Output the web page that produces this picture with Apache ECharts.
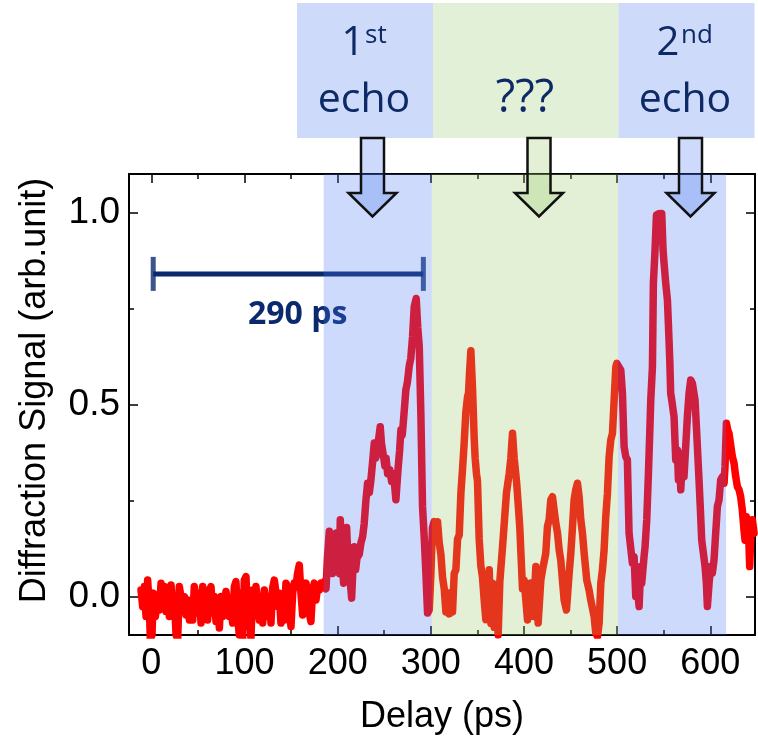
<!DOCTYPE html>
<html>
<head>
<meta charset="utf-8">
<script src="https://cdn.jsdelivr.net/npm/echarts@6/dist/echarts.min.js"></script>
<style>
  html, body { margin: 0; padding: 0; background: #ffffff; }
  #chart { width: 758px; height: 744px; }
</style>
</head>
<body>
<div id="chart"></div>
<script>
// Diffraction signal vs. pump-probe delay, [delay (ps), signal (arb. unit)]
const preEcho = [
  [-11.1, 0.017], [-9.3, -0.026], [-7.5, 0.026], [-5.7, -0.052], [-4.0, 0.043], [-2.2, -0.026],
  [-1.1, -0.11], [0.7, -0.10], [2.1, 0.009], [4.3, -0.052], [6.4, -0.009], [8.6, -0.035],
  [10.4, 0.035], [12.2, -0.026], [13.9, 0.026], [15.7, -0.039], [17.5, 0.009], [19.3, -0.052],
  [21.1, 0.030], [22.9, -0.026], [24.7, 0.0], [26.5, -0.10], [28.3, -0.11], [30.0, 0.026],
  [31.8, 0.030], [33.6, -0.026], [35.4, 0.0], [37.2, -0.048], [39.0, -0.009], [40.8, -0.061],
  [42.6, -0.017], [44.4, -0.061], [46.1, 0.026], [47.9, 0.026], [49.7, -0.043], [51.5, 0.009],
  [53.3, -0.069], [55.1, 0.026], [56.9, -0.026], [58.7, 0.0], [60.4, -0.061], [62.2, 0.017],
  [64.0, 0.026], [65.8, -0.043], [67.6, 0.0], [69.4, -0.065], [71.2, -0.009], [73.0, -0.082],
  [74.8, 0.0], [76.5, -0.052], [78.3, -0.026], [80.1, 0.013], [81.9, 0.017], [83.7, -0.052],
  [85.5, -0.017], [87.3, -0.069], [89.1, 0.026], [90.8, 0.039], [92.6, -0.052], [94.4, -0.10],
  [96.2, 0.009], [98.0, -0.11], [99.8, 0.043], [101.6, 0.052], [103.4, -0.078], [105.2, -0.009],
  [106.9, -0.11], [108.7, 0.017], [110.5, -0.026], [112.3, 0.026], [114.1, 0.030], [115.9, -0.061],
  [117.7, -0.009], [119.5, -0.069], [121.3, 0.017], [123.0, 0.022], [124.8, -0.052], [126.6, 0.0],
  [128.4, -0.069], [130.2, 0.022], [132.0, 0.043], [133.8, 0.039], [135.6, -0.026], [137.3, 0.009],
  [139.1, -0.069], [140.9, -0.017], [142.7, -0.061], [144.5, 0.035], [146.3, 0.026], [148.1, -0.043],
  [149.9, -0.078], [151.7, 0.009], [153.4, 0.035], [155.2, 0.026], [157.0, 0.061], [158.8, 0.082],
  [160.6, 0.009], [162.4, -0.048], [164.2, -0.009], [166.0, 0.035], [167.7, 0.009], [169.5, -0.043],
  [171.3, -0.065], [173.1, 0.017], [174.9, 0.035], [176.7, -0.009], [178.5, 0.026], [180.3, 0.017],
  [182.1, 0.035], [183.8, 0.026], [185.6, 0.039]
];
const firstEcho = [
  [187.5, 0.02], [189, 0.10], [191, 0.17], [193, 0.08], [194.5, 0.06], [196.5, 0.15], [198.2, 0.165],
  [200, 0.07], [201.7, 0.06], [202.8, 0.20], [204.5, 0.10], [206.4, 0.035], [208, 0.12], [209.6, 0.18],
  [211, 0.10], [212.4, 0.07], [215, -0.004], [216.5, 0.08], [217.8, 0.13], [219.3, 0.07], [220.7, 0.10],
  [223.2, 0.11], [225, 0.14], [226.8, 0.156], [228.5, 0.19], [230.3, 0.25], [232.1, 0.295], [234, 0.27],
  [235.7, 0.304], [237.5, 0.35], [239.3, 0.40], [240.7, 0.36], [242.1, 0.373], [244, 0.41], [245.7, 0.442],
  [247, 0.40], [248.2, 0.38], [249.5, 0.36], [250.7, 0.34], [252, 0.36], [253.6, 0.32], [256, 0.33],
  [257.9, 0.30], [260, 0.32], [262.5, 0.252], [265, 0.338], [266.5, 0.38], [267.9, 0.434], [269.3, 0.42],
  [270.7, 0.46], [272, 0.50], [273.2, 0.538], [275, 0.56], [276.8, 0.60], [278.5, 0.62], [280.4, 0.677],
  [282.2, 0.755], [284.3, 0.776], [286, 0.70], [287.6, 0.65], [289.3, 0.477], [291.1, 0.234], [293, 0.15],
  [294.7, 0.061], [296.5, -0.043], [298.3, -0.035], [300.1, 0.061]
];
const between = [
  [301.8, 0.18], [303.5, 0.195], [305.4, 0.17], [307.2, 0.195], [309, 0.14], [310.8, 0.11], [312.6, 0.05],
  [314.4, 0.02], [316.2, -0.04], [318, 0.01], [319.7, -0.045], [321.5, 0.0], [323.3, -0.04], [325.1, 0.06],
  [326.9, 0.07], [328.7, 0.15], [330.5, 0.16], [332.3, 0.27], [334, 0.33], [335.8, 0.40], [337.6, 0.48],
  [339.4, 0.52], [340.5, 0.53], [341.5, 0.58], [343, 0.64], [344.8, 0.54], [346.6, 0.41], [347.6, 0.36],
  [349, 0.32], [350.1, 0.30], [351.9, 0.15], [353.7, 0.08], [355.5, 0.05], [357.3, -0.01], [359.1, -0.06],
  [360.9, -0.03], [362.7, 0.07], [364.5, -0.07], [366.2, 0.035], [368, -0.08], [369.8, 0.03], [372.3, -0.10],
  [374.1, 0.04], [377, 0.13], [378.8, 0.13], [381.2, 0.27], [384.1, 0.32], [385.9, 0.36], [387.7, 0.425],
  [389.5, 0.36], [392, 0.30], [394.1, 0.23], [395.5, 0.18], [398.4, 0.02],
  [400.2, 0.043], [403.8, -0.061], [405.6, -0.009], [407.4, 0.035], [410.2, -0.052], [412.7, 0.078],
  [415.2, -0.069], [418.1, 0.043], [419.9, 0.069], [423.4, 0.113], [425.2, 0.182], [427.0, 0.2],
  [428.8, 0.252], [430.6, 0.26], [432.4, 0.225], [434.2, 0.191], [436.0, 0.165], [437.8, 0.121],
  [439.5, 0.095], [441.3, 0.043], [443.1, -0.009], [445.6, -0.035], [448.5, 0.061], [450.3, 0.113],
  [452.1, 0.182], [453.8, 0.252], [455.6, 0.278], [457.4, 0.295], [459.2, 0.26], [461.0, 0.2],
  [462.8, 0.165], [464.6, 0.113], [467.4, 0.043], [469.9, 0.017], [471.7, -0.009], [475.3, -0.052],
  [477.1, -0.095], [478.9, -0.104], [480.7, -0.069], [482.5, 0.035], [484.2, 0.069], [486.0, 0.121],
  [487.8, 0.208], [489.6, 0.269], [491.4, 0.364], [493.2, 0.408], [495.0, 0.425], [496.8, 0.512],
  [498.6, 0.598], [499.6, 0.607]
];
const secondEcho = [
  [503.9, 0.59], [505.7, 0.529], [507.5, 0.39], [509.3, 0.364], [511.0, 0.356], [512.8, 0.165],
  [516.4, 0.087], [518.2, 0.104], [520.0, 0.0], [521.8, 0.017], [523.6, -0.026], [525.3, 0.078],
  [526.4, 0.035], [528.9, 0.104], [530.0, 0.13], [531.8, 0.2], [533.6, 0.321], [535.0, 0.425],
  [536.1, 0.512], [537.9, 0.598], [538.9, 0.815], [540.7, 0.902], [542.2, 0.993], [543.9, 0.989],
  [545.0, 0.997], [546.8, 0.98], [547.9, 0.997], [549.3, 0.902], [550.4, 0.867], [552.2, 0.815],
  [554.0, 0.772], [555.7, 0.668], [556.5, 0.616], [557.5, 0.529], [558.6, 0.512], [561.1, 0.468],
  [562.9, 0.356], [564.7, 0.382], [565.8, 0.304], [567.2, 0.373], [568.3, 0.278], [570.1, 0.356],
  [571.8, 0.312], [573.6, 0.39], [575.4, 0.468], [577.2, 0.529], [579.0, 0.564], [580.8, 0.555],
  [582.6, 0.559], [583.6, 0.512], [585.1, 0.442], [586.5, 0.373], [587.9, 0.304], [589.4, 0.225],
  [590.8, 0.147], [592.6, 0.113], [594.4, 0.078], [595.8, 0.035], [596.9, -0.026], [598.7, 0.035],
  [600.5, 0.078], [602.2, 0.061], [604.0, 0.095], [605.8, 0.165], [607.6, 0.234], [609.4, 0.252],
  [611.2, 0.304], [613.0, 0.312], [614.8, 0.295], [615.8, 0.338], [617.3, 0.451]
];
const tail = [
  [618.7, 0.434], [620.1, 0.425], [621.9, 0.425], [623.7, 0.364], [625.5, 0.347], [627.3, 0.312],
  [629.1, 0.286], [630.9, 0.278], [632.6, 0.26], [634.4, 0.225], [636.2, 0.173], [637.3, 0.147],
  [638.7, 0.208], [640.9, 0.182], [642.3, 0.078], [643.7, 0.173], [645.2, 0.2], [647.0, 0.165]
];

// Shaded delay windows [from, to]
const echoWindows = [[185, 301], [501, 617]];
const unknownWindow = [301, 501];

// Scale bar showing the echo spacing
const scaleBarDelay = [2, 292];
const scaleBarLevel = 0.84;
const scaleBarLabel = '290 ps';
const scaleBarLabelAt = [157, 0.733];

const xRange = [-24, 648];
const yRange = [-0.1, 1.1];

const BLUE_VEIL = 'rgba(70,120,240,0.27)';
const GREEN_VEIL = 'rgba(150,198,104,0.27)';
const NAVY = '#0b2a6e';
const TICK_FONT = "'Liberation Sans Narrow', 'Liberation Sans', Arial, sans-serif";
const TITLE_FONT = "'Liberation Sans', Arial, sans-serif";
const BOX_FONT = "'Open Sans', 'Noto Sans', sans-serif";

const signal = preEcho.concat(firstEcho, between, secondEcho, tail);

const chart = echarts.init(document.getElementById('chart'), null, { renderer: 'canvas' });

function frameAxis(extra) {
  return Object.assign({
    type: 'value',
    axisLine: { show: true, onZero: false, lineStyle: { color: '#000', width: 2 } },
    axisTick: { show: true, inside: true, length: 9, lineStyle: { color: '#000', width: 1.5 } },
    minorTick: { show: true, splitNumber: 2, length: 5, lineStyle: { color: '#000', width: 1.5 } },
    splitLine: { show: false },
    minorSplitLine: { show: false }
  }, extra);
}

const markAreaData = echoWindows.map(w => [{ xAxis: w[0], itemStyle: { color: BLUE_VEIL } }, { xAxis: w[1] }])
  .concat([[{ xAxis: unknownWindow[0], itemStyle: { color: GREEN_VEIL } }, { xAxis: unknownWindow[1] }]]);

function arrow(cx, fill) {
  return {
    type: 'polygon', z: 100, silent: true,
    shape: { points: [[cx - 11.5, 138], [cx + 11.5, 138], [cx + 11.5, 193], [cx + 24, 193], [cx, 216.5], [cx - 24, 193], [cx - 11.5, 193]] },
    style: { fill: fill, stroke: '#111', lineWidth: 2.5, lineJoin: 'miter' }
  };
}
function boxText(text, x, y, size, align) {
  return {
    type: 'text', z: 101, silent: true,
    style: { text: text, x: x, y: y, fill: '#0e2a66', font: size + 'px ' + BOX_FONT, textAlign: align || 'center', textVerticalAlign: 'middle' }
  };
}

const option = {
  animation: false,
  backgroundColor: '#ffffff',
  grid: { left: 129, top: 174, width: 626, height: 461, containLabel: false },
  xAxis: [
    frameAxis({
      position: 'bottom', min: xRange[0], max: xRange[1], splitNumber: 7,
      name: 'Delay (ps)', nameLocation: 'middle', nameGap: 64,
      nameTextStyle: { fontFamily: TITLE_FONT, fontSize: 36, color: '#000' },
      axisLabel: { show: true, margin: 11, fontFamily: TICK_FONT, fontSize: 36, color: '#000', showMinLabel: false, showMaxLabel: false }
    }),
    frameAxis({ position: 'top', min: xRange[0], max: xRange[1], splitNumber: 7, axisLabel: { show: false } })
  ],
  yAxis: [
    frameAxis({
      position: 'left', min: yRange[0], max: yRange[1], splitNumber: 3,
      name: 'Diffraction Signal (arb.unit)', nameLocation: 'middle', nameGap: 76, nameRotate: 90,
      nameTextStyle: { fontFamily: TITLE_FONT, fontSize: 36, color: '#000', padding: [0, 0, 0, 28] },
      axisLabel: { show: true, margin: 9, fontFamily: TICK_FONT, fontSize: 37, color: '#000', showMinLabel: false, showMaxLabel: false,
        formatter: v => v.toFixed(1) }
    }),
    frameAxis({ position: 'right', min: yRange[0], max: yRange[1], splitNumber: 3, axisLabel: { show: false } })
  ],
  series: [
    {
      name: 'Diffraction signal', type: 'line', data: signal, z: 2,
      showSymbol: false, symbol: 'none', sampling: 'none', clip: true,
      lineStyle: { color: '#ff0000', width: 7.5, join: 'round', cap: 'round' },
      markArea: { silent: true, z: 10, data: markAreaData, label: { show: false } }
    },
    {
      name: 'Scale bar', type: 'line', z: 2, symbol: 'none', silent: true,
      data: scaleBarDelay.map(d => [d, scaleBarLevel]),
      lineStyle: { color: NAVY, width: 5 }
    },
    {
      name: 'Scale bar ends', type: 'scatter', z: 2, silent: true, symbol: 'rect', symbolSize: [5, 34],
      data: scaleBarDelay.map(d => [d, scaleBarLevel]),
      itemStyle: { color: NAVY }
    },
    {
      name: 'Scale bar label', type: 'scatter', z: 2, silent: true, symbolSize: 0,
      data: [scaleBarLabelAt],
      label: { show: true, position: 'inside', formatter: scaleBarLabel, fontFamily: BOX_FONT, fontWeight: 'bold', fontSize: 32,
        color: NAVY, textBorderWidth: 0, opacity: 1 }
    }
  ],
  graphic: [
    { type: 'rect', z: 99, silent: true, shape: { x: 297, y: 3, width: 136, height: 135 }, style: { fill: '#cddaf9' } },
    { type: 'rect', z: 99, silent: true, shape: { x: 433, y: 3, width: 185.5, height: 135 }, style: { fill: '#e2f0d7' } },
    { type: 'rect', z: 99, silent: true, shape: { x: 618.5, y: 3, width: 136, height: 135 }, style: { fill: '#cddaf9' } },
    boxText('1', 353, 44, 40),
    boxText('st', 365, 36, 26, 'left'),
    boxText('echo', 364, 100, 41),
    boxText('???', 525, 99, 45),
    boxText('2', 668, 44, 40),
    boxText('nd', 681, 36, 26, 'left'),
    boxText('echo', 685, 100, 41),
    arrow(372.5, BLUE_VEIL),
    arrow(539, GREEN_VEIL),
    arrow(690.5, BLUE_VEIL)
  ]
};

chart.setOption(option);
</script>
</body>
</html>
